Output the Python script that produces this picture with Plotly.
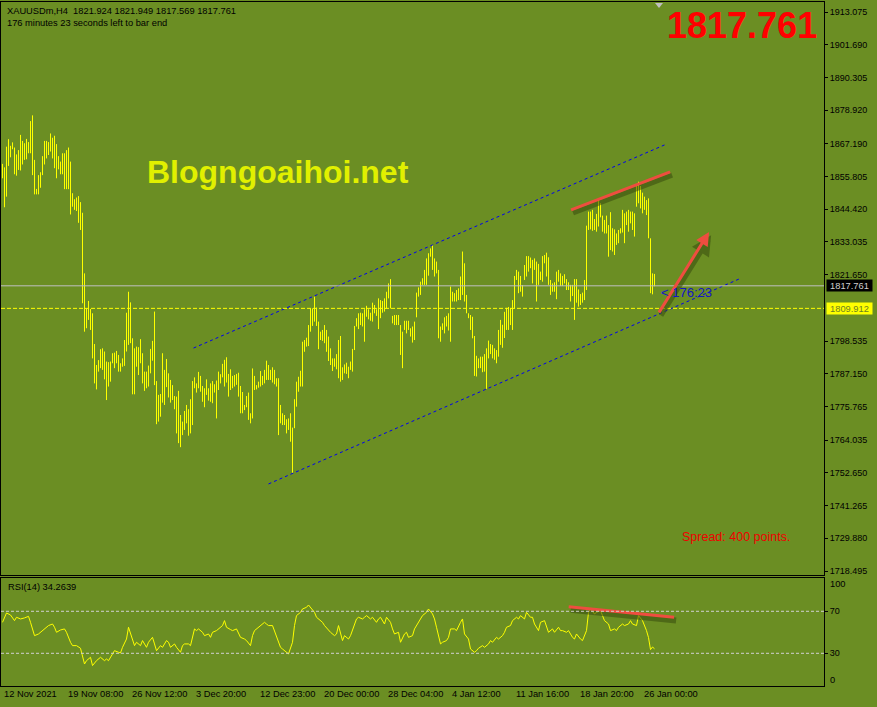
import plotly.graph_objects as go

W, H = 877, 707
BG = "#6B8E23"
FONT = "Liberation Sans, Arial, sans-serif"

# ---------------- data ----------------
symbol = "XAUUSDm,H4"
last_ohlc = [1821.924, 1821.949, 1817.569, 1817.761]
bid_price = 1817.761
level_price = 1809.912
rsi_last = 34.2639
countdown = "176:23"

bar_high = [
    1860.2, 1859.0, 1866.2, 1868.8, 1866.5, 1867.7, 1865.9, 1863.5, 1865.0, 1870.3,
    1868.2, 1867.4, 1868.9, 1867.8, 1875.1, 1877.1, 1861.6, 1851.5, 1856.3, 1857.3,
    1862.9, 1868.2, 1868.2, 1867.8, 1870.8, 1869.3, 1870.0, 1867.1, 1862.9, 1861.0,
    1863.9, 1863.9, 1865.0, 1865.9, 1861.0, 1850.0, 1847.9, 1848.5, 1849.0, 1846.9,
    1843.2, 1822.1, 1809.9, 1812.5, 1809.7, 1808.2, 1797.5, 1790.2, 1791.9, 1795.7,
    1796.0, 1794.9, 1791.4, 1791.2, 1791.4, 1794.3, 1794.5, 1795.1, 1793.7, 1790.8,
    1792.5, 1798.9, 1808.4, 1815.7, 1812.0, 1799.5, 1796.0, 1796.6, 1796.4, 1799.2,
    1794.3, 1787.9, 1787.9, 1790.0, 1795.8, 1798.6, 1808.8, 1784.6, 1779.8, 1780.1,
    1794.3, 1788.5, 1792.3, 1787.3, 1785.0, 1783.2, 1779.4, 1779.2, 1781.2, 1772.8,
    1770.5, 1774.2, 1776.3, 1774.8, 1778.3, 1784.6, 1785.9, 1783.8, 1787.8, 1786.4,
    1782.9, 1782.1, 1785.2, 1782.1, 1783.8, 1784.6, 1783.5, 1784.8, 1787.9, 1787.0,
    1790.6, 1792.0, 1792.9, 1787.1, 1788.7, 1786.4, 1786.7, 1787.1, 1787.5, 1782.9,
    1780.8, 1776.3, 1779.4, 1780.6, 1773.4, 1789.0, 1786.4, 1783.2, 1784.4, 1788.1,
    1786.4, 1788.5, 1791.7, 1790.2, 1788.5, 1789.4, 1788.5, 1785.6, 1785.6, 1776.3,
    1773.4, 1772.8, 1771.3, 1771.6, 1773.4, 1768.4, 1778.3, 1784.4, 1786.1, 1788.2,
    1798.3, 1798.9, 1799.7, 1804.1, 1809.9, 1809.9, 1814.0, 1810.2, 1805.3, 1801.8,
    1802.4, 1804.1, 1802.4, 1800.1, 1796.0, 1792.5, 1792.5, 1794.0, 1798.9, 1800.3,
    1789.4, 1790.4, 1791.0, 1789.6, 1791.4, 1795.8, 1803.8, 1806.5, 1808.2, 1808.4,
    1808.2, 1809.6, 1810.8, 1809.6, 1808.4, 1811.9, 1811.1, 1809.6, 1813.4, 1812.8,
    1812.5, 1813.4, 1815.7, 1818.6, 1820.1, 1807.3, 1807.6, 1807.6, 1807.6, 1804.1,
    1801.8, 1805.6, 1805.6, 1805.6, 1803.0, 1803.6, 1805.3, 1815.4, 1817.2, 1819.2,
    1820.4, 1823.3, 1827.3, 1829.1, 1830.8, 1832.0, 1827.3, 1826.2, 1823.3, 1803.6,
    1804.7, 1806.8, 1807.3, 1808.2, 1817.5, 1815.7, 1815.2, 1816.3, 1816.9, 1821.0,
    1829.7, 1825.6, 1814.6, 1808.2, 1807.6, 1807.0, 1800.3, 1793.4, 1792.5, 1793.1,
    1793.1, 1794.0, 1796.0, 1798.7, 1797.5, 1797.2, 1796.0, 1795.4, 1802.4, 1805.9,
    1804.2, 1808.7, 1810.1, 1810.4, 1810.1, 1812.8, 1821.2, 1823.3, 1822.7, 1821.2,
    1818.0, 1825.0, 1828.1, 1828.1, 1827.6, 1826.8, 1827.3, 1826.2, 1825.4, 1822.7,
    1828.1, 1828.5, 1829.3, 1827.7, 1819.8, 1818.6, 1819.0, 1822.7, 1823.3, 1822.1,
    1821.2, 1821.8, 1820.1, 1819.0, 1818.1, 1818.1, 1820.1, 1820.1, 1816.5, 1814.9,
    1815.4, 1819.8, 1838.7, 1843.6, 1843.6, 1844.2, 1841.0, 1842.8, 1847.6, 1846.5,
    1842.2, 1840.7, 1842.2, 1838.9, 1843.4, 1837.8, 1837.4, 1836.0, 1837.2, 1837.8,
    1844.2, 1843.0, 1843.6, 1844.2, 1843.6, 1843.6, 1843.0, 1852.9, 1854.0, 1852.5,
    1850.2, 1848.8, 1847.6, 1848.2, 1834.3, 1822.1, 1821.9,
]
bar_low = [
    1855.2, 1845.1, 1848.8, 1859.5, 1862.5, 1865.3, 1856.6, 1856.1, 1858.1, 1857.9,
    1860.0, 1861.6, 1861.8, 1863.9, 1863.9, 1856.3, 1849.6, 1849.6, 1849.6, 1851.9,
    1856.3, 1860.0, 1862.1, 1863.3, 1864.5, 1862.1, 1858.7, 1855.2, 1858.3, 1856.6,
    1856.6, 1851.4, 1851.4, 1851.4, 1842.6, 1845.3, 1844.2, 1843.8, 1839.7, 1837.2,
    1811.7, 1801.8, 1803.0, 1805.9, 1802.4, 1792.5, 1783.8, 1781.7, 1787.9, 1789.1,
    1788.5, 1785.2, 1778.0, 1782.7, 1784.4, 1790.8, 1789.1, 1790.8, 1787.9, 1787.9,
    1789.6, 1789.9, 1794.9, 1797.2, 1797.8, 1780.0, 1780.0, 1789.6, 1786.7, 1790.8,
    1783.8, 1781.2, 1782.1, 1782.7, 1787.3, 1791.7, 1783.2, 1769.6, 1770.5, 1772.2,
    1777.1, 1776.3, 1782.5, 1778.9, 1777.1, 1778.0, 1774.8, 1766.4, 1763.0, 1761.6,
    1765.8, 1767.6, 1769.9, 1765.6, 1766.4, 1769.3, 1782.1, 1780.6, 1782.1, 1780.9,
    1777.4, 1775.5, 1779.8, 1777.8, 1777.4, 1776.9, 1780.6, 1771.6, 1781.5, 1783.8,
    1785.9, 1782.7, 1784.1, 1779.2, 1781.5, 1782.1, 1782.7, 1783.3, 1779.2, 1773.4,
    1773.4, 1774.5, 1775.5, 1771.1, 1769.9, 1771.6, 1781.5, 1781.7, 1782.3, 1782.7,
    1783.2, 1783.8, 1785.0, 1785.0, 1785.0, 1784.1, 1783.5, 1782.7, 1765.8, 1769.9,
    1769.3, 1769.3, 1766.4, 1767.6, 1763.5, 1752.7, 1768.2, 1775.7, 1780.9, 1782.7,
    1782.7, 1794.8, 1796.6, 1796.8, 1801.8, 1803.8, 1805.3, 1803.8, 1795.7, 1798.9,
    1798.6, 1797.8, 1794.8, 1791.6, 1790.2, 1788.1, 1789.6, 1788.7, 1785.6, 1784.4,
    1785.0, 1787.3, 1787.1, 1785.6, 1788.5, 1787.9, 1795.4, 1803.6, 1802.7, 1804.1,
    1803.6, 1798.3, 1807.0, 1806.1, 1805.6, 1805.3, 1808.2, 1807.3, 1802.7, 1806.5,
    1808.4, 1808.8, 1809.9, 1813.4, 1809.9, 1804.7, 1804.1, 1804.1, 1804.1, 1793.7,
    1789.1, 1802.4, 1801.2, 1802.4, 1800.1, 1798.0, 1798.9, 1806.8, 1814.0, 1814.6,
    1818.1, 1818.1, 1818.1, 1821.3, 1827.9, 1823.3, 1821.0, 1822.1, 1799.5, 1798.3,
    1802.4, 1801.2, 1803.6, 1802.2, 1798.3, 1812.3, 1812.3, 1812.3, 1812.8, 1812.8,
    1814.6, 1812.3, 1808.2, 1806.5, 1802.4, 1799.5, 1786.4, 1786.2, 1789.1, 1789.1,
    1787.7, 1787.9, 1781.9, 1792.5, 1794.0, 1792.5, 1792.0, 1790.8, 1793.1, 1797.2,
    1796.2, 1799.6, 1802.4, 1802.4, 1804.1, 1802.4, 1809.9, 1819.8, 1815.2, 1815.7,
    1814.0, 1819.8, 1821.0, 1822.7, 1823.9, 1818.6, 1823.3, 1812.3, 1818.1, 1819.8,
    1819.2, 1825.6, 1821.0, 1818.1, 1814.6, 1815.7, 1815.7, 1813.1, 1819.2, 1817.7,
    1817.7, 1818.6, 1816.3, 1816.3, 1812.3, 1814.2, 1805.9, 1811.9, 1810.5, 1811.1,
    1811.9, 1812.8, 1816.3, 1837.2, 1837.4, 1836.9, 1837.2, 1836.6, 1838.4, 1841.6,
    1836.6, 1836.0, 1836.0, 1827.9, 1830.2, 1829.7, 1828.5, 1832.0, 1832.6, 1836.0,
    1836.3, 1832.6, 1838.9, 1836.6, 1839.5, 1837.2, 1834.9, 1845.3, 1846.5, 1844.7,
    1843.0, 1844.2, 1842.4, 1834.3, 1815.2, 1814.8, 1817.6,
]

rsi_index = [
    0, 2, 4, 6, 7, 9, 11, 13, 14, 16, 18, 21, 23, 25, 26, 27, 29, 31, 32, 34,
    35, 37, 39, 41, 42, 44, 45, 47, 49, 51, 52, 53, 55, 56, 58, 59, 60, 62, 63, 65,
    66, 67, 69, 70, 72, 73, 75, 76, 77, 79, 80, 82, 83, 84, 86, 87, 89, 90, 91, 93,
    94, 96, 97, 98, 100, 101, 103, 104, 105, 107, 108, 110, 111, 112, 114, 115, 117, 118, 119, 121,
    122, 124, 125, 126, 128, 129, 131, 132, 133, 135, 136, 138, 139, 140, 142, 143, 145, 146, 147, 149,
    150, 152, 153, 154, 156, 157, 159, 160, 161, 163, 164, 166, 167, 168, 170, 171, 173, 174, 175, 177,
    178, 180, 181, 182, 184, 185, 187, 188, 189, 191, 192, 194, 195, 196, 198, 199, 201, 202, 203, 205,
    206, 208, 209, 210, 212, 213, 215, 216, 217, 219, 220, 222, 223, 224, 226, 227, 229, 230, 231, 233,
    234, 236, 237, 238, 240, 241, 243, 244, 245, 247, 248, 250, 251, 252, 254, 255, 257, 258, 259, 261,
    262, 264, 265, 266, 268, 269, 271, 272, 273, 275, 276, 278, 279, 280, 282, 283, 285, 286, 287, 289,
    290, 292, 293, 294, 296, 297, 299, 300, 301, 303, 304, 306, 307, 308, 310, 311, 313, 314, 315, 317,
    318, 320, 321, 322, 323, 324, 325, 326,
]
rsi_value = [
    59.5, 68.4, 66.5, 61.1, 64.3, 62.7, 63.7, 65.2, 59.5, 46.8, 48.4, 53.2, 56.4, 57.9, 54.8, 50.0, 52.2, 53.2, 50.0, 40.5,
    37.3, 37.3, 34.8, 19.8, 23.0, 26.2, 18.3, 23.0, 26.2, 23.0, 24.6, 23.0, 29.4, 32.5, 31.0, 30.3, 35.7, 43.6, 54.8, 42.1,
    37.3, 40.5, 37.3, 42.1, 35.7, 40.5, 45.2, 38.9, 32.5, 37.3, 35.7, 42.1, 40.5, 35.7, 38.9, 35.7, 31.0, 37.3, 38.9, 38.9,
    37.3, 53.2, 51.6, 53.2, 50.0, 46.8, 48.4, 45.2, 50.0, 51.6, 53.2, 56.4, 61.1, 54.8, 52.6, 51.6, 53.2, 48.4, 45.2, 43.6,
    42.1, 37.3, 46.8, 51.6, 54.8, 56.4, 59.5, 57.9, 56.4, 56.4, 51.6, 42.1, 35.7, 34.1, 31.0, 29.4, 40.5, 56.4, 65.9, 69.0,
    72.2, 73.8, 76.0, 73.8, 69.0, 64.3, 61.1, 59.5, 56.4, 51.6, 50.0, 46.8, 48.4, 56.4, 42.1, 46.8, 43.6, 46.8, 51.6, 62.7,
    64.3, 62.7, 64.3, 65.9, 62.7, 64.3, 59.5, 62.7, 64.3, 57.9, 64.3, 59.5, 53.2, 48.4, 50.0, 40.5, 48.4, 50.0, 45.2, 46.8,
    53.2, 59.5, 62.7, 65.9, 69.0, 72.2, 67.5, 62.7, 54.8, 38.9, 40.5, 42.1, 45.2, 53.2, 53.2, 51.6, 59.5, 62.7, 48.4, 43.6,
    34.1, 31.0, 32.5, 34.8, 37.3, 35.7, 38.9, 42.1, 40.5, 45.2, 43.6, 46.8, 50.0, 54.8, 56.4, 61.1, 64.3, 62.7, 65.9, 62.7,
    69.0, 64.3, 64.3, 57.9, 51.6, 59.5, 61.1, 54.8, 50.0, 53.2, 50.0, 54.8, 51.6, 51.6, 50.0, 51.6, 45.2, 43.6, 48.4, 43.6,
    42.1, 51.6, 69.0, 72.2, 67.5, 69.0, 70.6, 65.9, 61.1, 57.9, 51.6, 53.2, 51.6, 54.8, 57.9, 56.4, 57.9, 61.1, 57.9, 56.4,
    65.9, 61.1, 56.4, 51.6, 45.0, 33.5, 36.0, 34.3,
]

price_ticks = [1913.075, 1901.690, 1890.305, 1878.920, 1867.190, 1855.805, 1844.420,
               1833.035, 1821.650, 1798.535, 1787.150, 1775.765, 1764.035, 1752.650,
               1741.265, 1729.880, 1718.495]
rsi_levels = [30, 70]
rsi_edge_labels = ["100", "0"]
time_index = [0, 32, 64, 96, 128, 160, 192, 224, 256, 288, 320]
time_labels = ["12 Nov 2021", "19 Nov 08:00", "26 Nov 12:00", "3 Dec 20:00", "12 Dec 23:00",
               "20 Dec 00:00", "28 Dec 04:00", "4 Jan 12:00", "11 Jan 16:00", "18 Jan 20:00",
               "26 Jan 00:00"]

# drawn objects (bar index, value)
channel_upper_x, channel_upper_y = [95.5, 331.0], [1796.1, 1866.8]
channel_lower_x, channel_lower_y = [133.0, 368.5], [1748.8, 1820.2]
red_top_x, red_top_y = [284.3, 333.8], [1844.2, 1857.4]
red_arrow_x, red_arrow_y = [327.8, 353.3], [1808.0, 1836.5]
rsi_red_x, rsi_red_y = [283.1, 335.8], [74.4, 64.3]

# ---------------- geometry ----------------
X_DOM = [1 / W, 824 / W]
X_RANGE = [-0.75, 410.75]
Y_MAIN_DOM = [1 - 575 / H, 1 - 2 / H]
Y_MAIN_RANGE = [1717.103, 1916.556]
Y_RSI_DOM = [1 - 686 / H, 1 - 578 / H]
Y_RSI_RANGE = [-1.14, 101.7]

RED = "#EE4D3F"
SHADOW = "rgba(55,75,15,0.55)"

fig = go.Figure()

# OHLC bars as high-low lines
bx, by = [], []
for i, (hv, lv) in enumerate(zip(bar_high, bar_low)):
    bx += [i, i, None]
    by += [lv, hv, None]
fig.add_trace(go.Scatter(x=bx, y=by, mode="lines", line=dict(color="#FFFF00", width=1),
                         hoverinfo="skip", xaxis="x", yaxis="y"))

# channel lines
for cx, cy in [(channel_upper_x, channel_upper_y), (channel_lower_x, channel_lower_y)]:
    fig.add_trace(go.Scatter(x=cx, y=cy, mode="lines",
                             line=dict(color="#0000F0", width=1, dash="3px,3px"),
                             hoverinfo="skip", xaxis="x", yaxis="y"))

# red trend line with shadow
fig.add_trace(go.Scatter(x=[v + 1 for v in red_top_x], y=[v - 1.1 for v in red_top_y], mode="lines",
                         line=dict(color=SHADOW, width=5), hoverinfo="skip", xaxis="x", yaxis="y"))
fig.add_trace(go.Scatter(x=red_top_x, y=red_top_y, mode="lines",
                         line=dict(color=RED, width=3), hoverinfo="skip", xaxis="x", yaxis="y"))

# RSI
fig.add_trace(go.Scatter(x=rsi_index, y=rsi_value, mode="lines",
                         line=dict(color="#FFFF00", width=1), hoverinfo="skip",
                         xaxis="x2", yaxis="y2"))
fig.add_trace(go.Scatter(x=[v + 1 for v in rsi_red_x], y=[v - 3 for v in rsi_red_y], mode="lines",
                         line=dict(color=SHADOW, width=6), hoverinfo="skip", xaxis="x2", yaxis="y2"))
fig.add_trace(go.Scatter(x=rsi_red_x, y=rsi_red_y, mode="lines",
                         line=dict(color=RED, width=3), hoverinfo="skip", xaxis="x2", yaxis="y2"))

shapes = []
# bid line & level line
shapes.append(dict(type="line", xref="x domain", yref="y", x0=0, x1=1, y0=bid_price, y1=bid_price,
                   line=dict(color="#C0C0C0", width=1)))
shapes.append(dict(type="line", xref="x domain", yref="y", x0=0, x1=1, y0=level_price, y1=level_price,
                   line=dict(color="#FFFF00", width=1, dash="4px,2px")))
# RSI levels
for lv in rsi_levels:
    shapes.append(dict(type="line", xref="x2 domain", yref="y2", x0=0, x1=1, y0=lv, y1=lv,
                       line=dict(color="#D0D0D0", width=1, dash="3px,2px")))
# chart-shift marker
shapes.append(dict(type="path", xref="paper", yref="paper",
                   path=f"M {655/W},{1-3/H} L {663/W},{1-3/H} L {659/W},{1-8/H} Z",
                   fillcolor="#C0C0C0", line=dict(width=0)))

ann = []
tf = dict(family=FONT, size=9.3, color="black")
ann.append(dict(xref="paper", yref="paper", x=5 / W, y=1 - 10.5 / H, xanchor="left", yanchor="middle",
                showarrow=False, font=tf,
                text=f"{symbol}  " + " ".join(f"{v:.3f}" for v in last_ohlc)))
ann.append(dict(xref="paper", yref="paper", x=5 / W, y=1 - 23.5 / H, xanchor="left", yanchor="middle",
                showarrow=False, font=tf, text="176 minutes 23 seconds left to bar end"))
ann.append(dict(xref="paper", yref="paper", x=6 / W, y=1 - 587 / H, xanchor="left", yanchor="middle",
                showarrow=False, font=tf, text=f"RSI(14) {rsi_last:.4f}"))
# big price
ann.append(dict(xref="paper", yref="paper", x=742 / W, y=1 - 25.3 / H, xanchor="center", yanchor="middle",
                showarrow=False, font=dict(family=FONT, size=36, color="#FF0000"),
                text=f"<b>{bid_price:.3f}</b>"))
# watermark
ann.append(dict(xref="paper", yref="paper", x=277.5 / W, y=1 - 172 / H, xanchor="center", yanchor="middle",
                showarrow=False, font=dict(family=FONT, size=32, color="#E1F000"),
                text="<b>Blogngoaihoi.net</b>"))
# spread
ann.append(dict(xref="paper", yref="paper", x=736 / W, y=1 - 537 / H, xanchor="center", yanchor="middle",
                showarrow=False, font=dict(family=FONT, size=12.5, color="#F00000"),
                text="Spread: 400 points."))
# red arrow shadow + arrow
ann.append(dict(xref="x", yref="y", axref="x", ayref="y",
                x=red_arrow_x[1] + 1, y=red_arrow_y[1] - 1.1, ax=red_arrow_x[0] + 1, ay=red_arrow_y[0] - 1.1,
                showarrow=True, arrowhead=2, arrowsize=0.8, arrowwidth=5, arrowcolor=SHADOW, text=""))
ann.append(dict(xref="x", yref="y", axref="x", ayref="y",
                x=red_arrow_x[1], y=red_arrow_y[1], ax=red_arrow_x[0], ay=red_arrow_y[0],
                showarrow=True, arrowhead=2, arrowsize=0.9, arrowwidth=3, arrowcolor=RED, text=""))
# countdown text
ann.append(dict(xref="x", yref="y", x=328.2, y=bid_price, yshift=-7, xanchor="left", yanchor="middle",
                showarrow=False, font=dict(family=FONT, size=13, color="#1414C8"),
                text=f"&lt; {countdown}"))
# price labels on the axis
ann.append(dict(xref="paper", yref="y", x=826 / W, y=bid_price, xanchor="left", yanchor="middle",
                showarrow=False, bgcolor="black", width=45, height=11, borderpad=0,
                font=dict(family=FONT, size=9.3, color="#D0D0D0"), text=f"{bid_price:.3f}"))
ann.append(dict(xref="paper", yref="y", x=826 / W, y=level_price, xanchor="left", yanchor="middle",
                showarrow=False, bgcolor="#FFFF00", width=45, height=11, borderpad=0,
                font=dict(family=FONT, size=9.3, color="#6B7E23"), text=f"{level_price:.3f}"))
# RSI edge labels (MT4 pulls them inside the window)
ann.append(dict(xref="paper", yref="paper", x=828 / W, y=1 - 584 / H, xanchor="left", yanchor="middle",
                showarrow=False, font=tf, text=rsi_edge_labels[0]))
ann.append(dict(xref="paper", yref="paper", x=828 / W, y=1 - 679.5 / H, xanchor="left", yanchor="middle",
                showarrow=False, font=tf, text=rsi_edge_labels[1]))
# time labels
for ti, tl in zip(time_index, time_labels):
    ann.append(dict(xref="x2", yref="paper", x=ti, y=1 - 694 / H, xanchor="left", yanchor="middle",
                    xshift=-1, showarrow=False, font=tf, text=tl))

axis_common = dict(showgrid=False, zeroline=False, showline=True, mirror=True,
                   linecolor="black", linewidth=1)

fig.update_layout(
    width=W, height=H,
    margin=dict(l=0, r=0, t=0, b=0),
    paper_bgcolor=BG, plot_bgcolor=BG,
    showlegend=False, hovermode=False,
    font=dict(family=FONT, size=9.3, color="black"),
    xaxis=dict(domain=X_DOM, range=X_RANGE, anchor="y", showticklabels=False, ticks="",
               **axis_common),
    yaxis=dict(domain=Y_MAIN_DOM, range=Y_MAIN_RANGE, anchor="x", side="right",
               tickvals=price_ticks, ticktext=[f"{v:.3f}" for v in price_ticks],
               ticks="outside", ticklen=3, tickcolor="black", automargin=False,
               tickfont=dict(family=FONT, size=9, color="black"), **axis_common),
    xaxis2=dict(domain=X_DOM, range=X_RANGE, anchor="y2", matches="x", showticklabels=False,
                ticks="", **axis_common),
    yaxis2=dict(domain=Y_RSI_DOM, range=Y_RSI_RANGE, anchor="x2", side="right",
                tickvals=rsi_levels, ticktext=[str(v) for v in rsi_levels],
                ticks="outside", ticklen=3, tickcolor="black", automargin=False,
                tickfont=dict(family=FONT, size=9, color="black"), **axis_common),
    shapes=shapes,
    annotations=ann,
)

fig.write_html("out.html", include_plotlyjs=True, config={"displayModeBar": False},
               post_script="document.body.style.margin='0px';document.body.style.background='" + BG + "';")
